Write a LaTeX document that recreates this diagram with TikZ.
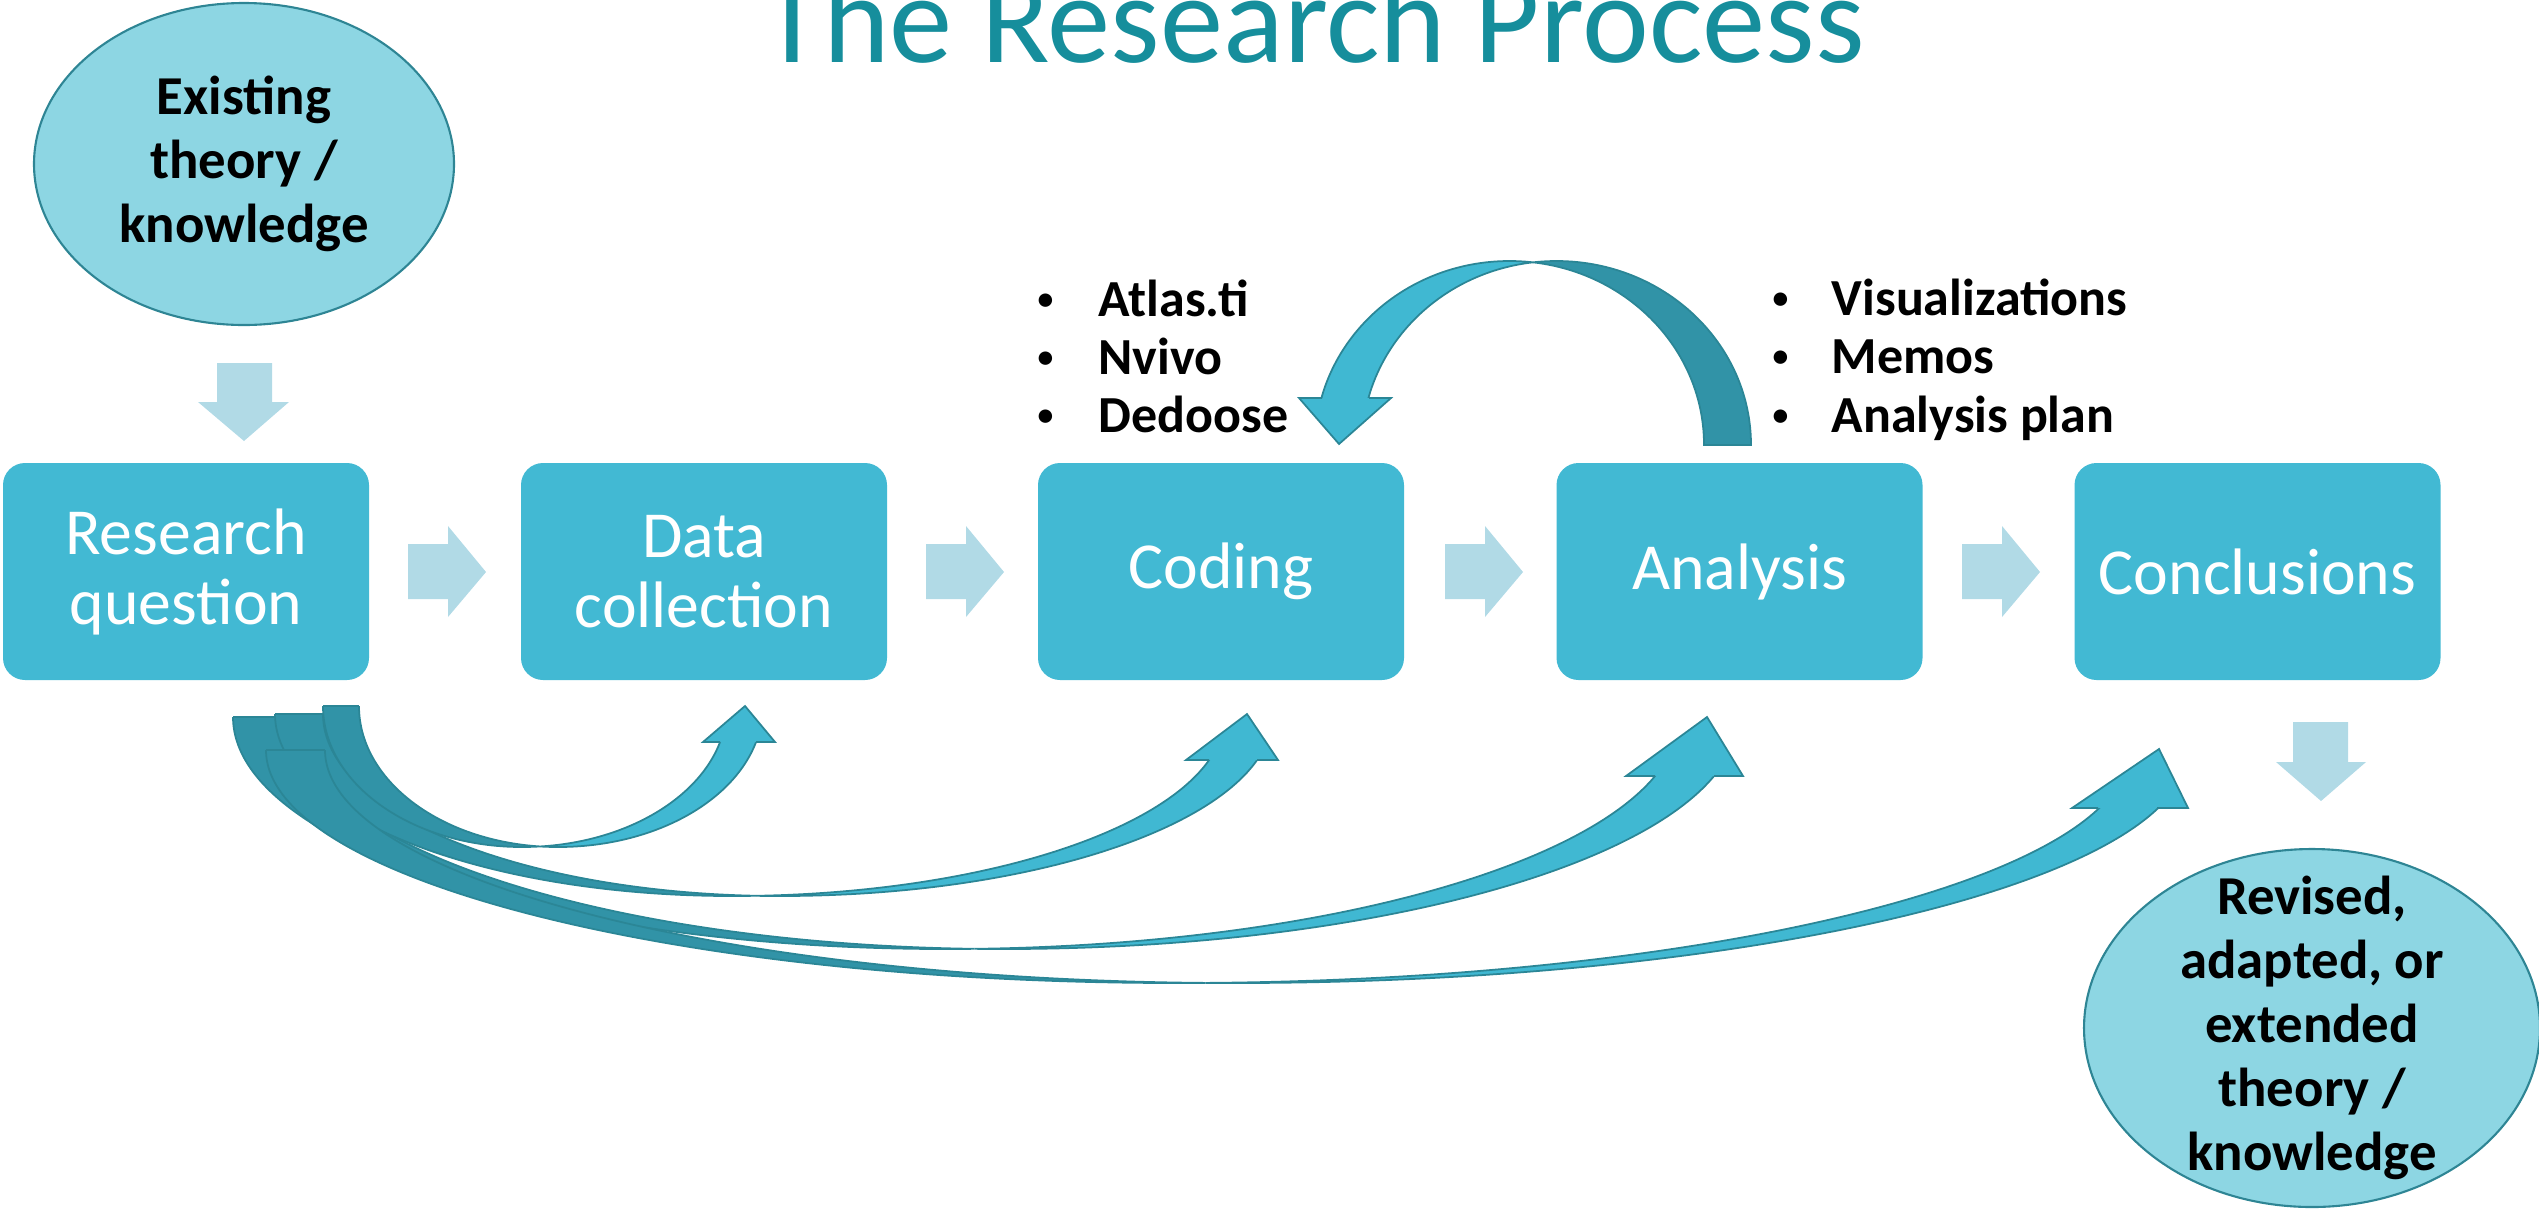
\documentclass[tikz,border=0pt]{standalone}
\usepackage{fontspec}
\setmainfont{Carlito}
\usetikzlibrary{shapes.geometric}
\definecolor{boxc}{HTML}{42B9D3}
\definecolor{bandlight}{HTML}{40B8D2}
\definecolor{banddark}{HTML}{3193A7}
\definecolor{bandline}{HTML}{2B8696}
\definecolor{ellc}{HTML}{8DD6E3}
\definecolor{elline}{HTML}{2E8594}
\definecolor{chev}{HTML}{B1DAE6}
\definecolor{titlec}{HTML}{168E9C}

\tikzset{
  procbox/.style={rectangle, rounded corners=2.2mm, fill=boxc, minimum width=36.6mm,
    minimum height=21.7mm, inner sep=0pt, text=white, align=center,
    font=\fontsize{18.7}{19.9}\selectfont},
  theory/.style={ellipse, fill=ellc, draw=elline, line width=0.6pt, inner sep=0pt},
  theorytext/.style={align=center, inner sep=0pt, font=\bfseries\fontsize{15.6}{18.2}\selectfont},
  bulletline/.style={anchor=base west, inner sep=0pt, font=\bfseries\fontsize{14.8}{16.5}\selectfont},
  chevfill/.style={fill=chev},
  bandedge/.style={draw=bandline, line width=0.5pt},
}
\newcommand\smallbullet{\raisebox{1.9pt}{\fontsize{9}{9}\selectfont •}}

% curved up arrow band: cx cy rxL rxR ry w hb
\newcommand\bandup[7]{%
  \begin{scope}
    \clip ({#1-#3-10},#2) rectangle ({#1+#6/2},{#2+#5+10});
    \filldraw[fill=banddark, bandedge, even odd rule]
      (#1,#2) ellipse [x radius=#3*0.1mm, y radius=#5*0.1mm]
      ({#1+#6},#2) ellipse [x radius=#3*0.1mm, y radius=#5*0.1mm];
  \end{scope}
  \draw[bandedge] ({#1-#3},#2) -- ({#1-#3+#6},#2);
  \begin{scope}
    \clip ({#1+#6/2},#7) rectangle ({#1+#4+#6+10},{#2+#5+10});
    \filldraw[fill=bandlight, bandedge, even odd rule]
      (#1,#2) ellipse [x radius=#4*0.1mm, y radius=#5*0.1mm]
      ({#1+#6},#2) ellipse [x radius=#4*0.1mm, y radius=#5*0.1mm];
  \end{scope}
}
% arrow head: xi xo xl xr hb ax ay
\newcommand\headtip[7]{%
  \fill[bandlight] (#1,#5) -- (#3,#5) -- (#6,#7) -- (#4,#5) -- (#2,#5) -- cycle;
  \draw[bandedge, line join=miter] (#1,#5) -- (#3,#5) -- (#6,#7) -- (#4,#5) -- (#2,#5);
}
\newcommand\chevron[1]{%
  \fill[chevfill] (#1,544) -- ({#1+40},544) -- ({#1+40},526) -- ({#1+78},572)
    -- ({#1+40},617) -- ({#1+40},599) -- (#1,599) -- cycle;
}

\begin{document}
\begin{tikzpicture}[x=0.1mm, y=-0.1mm]
\useasboundingbox (0,0) rectangle (2539,1211);
\clip (0,0) rectangle (2539,1211);

% title
\node[anchor=base, text=titlec, inner sep=0pt, font=\fontsize{36}{40}\selectfont] (title) at (1313,62) {The Research Process};

% theory ellipses
\node[theory, minimum width=42mm, minimum height=32.2mm] (exist) at (244,164) {};
\node[theorytext] (existtext) at (exist.center) {Existing\\theory /\\knowledge};
\node[theory, minimum width=45.6mm, minimum height=35.8mm] (revised) at (2312,1028) {};
\node[theorytext] (revisedtext) at (revised.center) {Revised,\\adapted, or\\extended\\theory /\\knowledge};

% down arrows
\fill[chevfill] (217,363) -- (272,363) -- (272,402) -- (289,402) -- (244,441) -- (198,402) -- (217,402) -- cycle;
\fill[chevfill] (2293,722) -- (2348,722) -- (2348,762) -- (2366,762) -- (2321,801) -- (2276,762) -- (2293,762) -- cycle;

% process boxes
\node[procbox] (rq) at (186,571.5) {Research\\question};
\node[procbox] (dc) at (704,571.5) {Data\\collection};
\node[procbox] (cod) at (1221,571.5) {Coding};
\node[procbox] (ana) at (1739.5,571.5) {Analysis};
\node[procbox] (con) at (2257.5,571.5) {Conclusions};

% chevrons between boxes
\chevron{408}
\chevron{926}
\chevron{1445}
\chevron{1962}

% bullet lists
\node[bulletline] (c1) at (1037,316) {\makebox[6.1mm][l]{\smallbullet}Atlas.ti};
\node[bulletline] (c2) at (1037,374) {\makebox[6.1mm][l]{\smallbullet}Nvivo};
\node[bulletline] (c3) at (1037,432) {\makebox[6.1mm][l]{\smallbullet}Dedoose};
\node[bulletline] (a1) at (1772,315) {\makebox[5.9mm][l]{\smallbullet}Visualizations};
\node[bulletline] (a2) at (1772,373) {\makebox[5.9mm][l]{\smallbullet}Memos};
\node[bulletline] (a3) at (1772,432) {\makebox[5.9mm][l]{\smallbullet}Analysis plan};

% loop arrow Analysis -> Coding
\begin{scope}
  \clip (1533,445) rectangle (1780,240);
  \filldraw[fill=banddark, bandedge, even odd rule]
    (1509.5,445) ellipse [x radius=19.45mm, y radius=18.4mm]
    (1556.5,445) ellipse [x radius=19.45mm, y radius=18.4mm];
\end{scope}
\draw[bandedge] (1704,445) -- (1751,445);
\begin{scope}
  \clip (1280,398) rectangle (1533,240);
  \filldraw[fill=bandlight, bandedge, even odd rule]
    (1509.5,445) ellipse [x radius=19.45mm, y radius=18.4mm]
    (1556.5,445) ellipse [x radius=19.45mm, y radius=18.4mm];
\end{scope}
\headtip{1322}{1369}{1299}{1391}{398}{1339}{444}

% curved arrows from Research question
\bandup{945}{717}{712}{734}{232}{59}{776}
\headtip{1655}{1714}{1626}{1743}{776}{1707}{717}
\bandup{732}{714}{457}{493}{182}{48}{760}
\headtip{1209}{1257}{1186}{1278}{760}{1247}{714}
\bandup{1176}{750}{910}{953}{233}{59}{808}
\headtip{2098}{2157}{2072}{2188}{808}{2159}{749}
\bandup{522}{706}{199}{204.8}{141}{36}{742}
\headtip{720}{756}{703}{775}{742}{745}{706}
\end{tikzpicture}
\end{document}
